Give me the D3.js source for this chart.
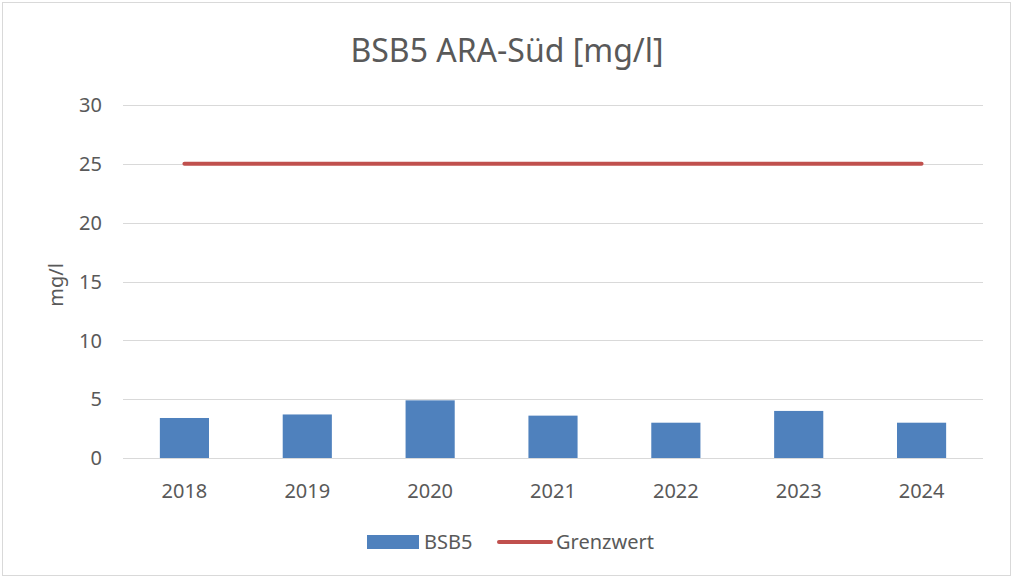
<!DOCTYPE html>
<html>
<head>
<meta charset="utf-8">
<script src="https://cdn.jsdelivr.net/npm/d3@7"></script>
<style>
  body { margin: 0; background: #fff; }
  text { font-family: "Noto Sans", "Open Sans", sans-serif; fill: #595959; }
</style>
</head>
<body>
<svg id="chart" width="1013" height="578"></svg>
<script>
// data
const years = ["2018", "2019", "2020", "2021", "2022", "2023", "2024"];
const bsb5 = [3.4, 3.7, 4.9, 3.6, 3.0, 4.0, 3.0];
const grenzwert = [25, 25, 25, 25, 25, 25, 25];
const yTicks = [0, 5, 10, 15, 20, 25, 30];

const svg = d3.select("#chart");
const W = 1013, H = 578;
const margin = { top: 105, right: 30, bottom: 120, left: 123 };

// outer chart border
svg.append("rect")
    .attr("x", 2.5).attr("y", 2.5)
    .attr("width", W - 5).attr("height", H - 5)
    .attr("fill", "#fff")
    .attr("stroke", "#d9d9d9");

const x = d3.scaleBand()
    .domain(years)
    .range([margin.left, W - margin.right])
    .padding(0);

const y = d3.scaleLinear()
    .domain([0, 30])
    .range([H - margin.bottom, margin.top]);

// gridlines
svg.append("g")
    .selectAll("line")
    .data(yTicks)
    .join("line")
    .attr("x1", margin.left)
    .attr("x2", W - margin.right)
    .attr("y1", d => Math.round(y(d)) + 0.5)
    .attr("y2", d => Math.round(y(d)) + 0.5)
    .attr("stroke", "#d9d9d9")
    .attr("stroke-width", 1);

// y tick labels
svg.append("g")
    .selectAll("text")
    .data(yTicks)
    .join("text")
    .attr("x", margin.left - 21)
    .attr("y", d => y(d))
    .attr("dy", "0.36em")
    .attr("text-anchor", "end")
    .attr("font-size", 20)
    .text(d => d);

// bars
const barW = x.bandwidth() * 0.4;
svg.append("g")
    .selectAll("rect")
    .data(bsb5)
    .join("rect")
    .attr("x", (d, i) => x(years[i]) + (x.bandwidth() - barW) / 2)
    .attr("y", d => y(d))
    .attr("width", barW)
    .attr("height", d => y(0) - y(d))
    .attr("fill", "#4f81bd");

// x labels
svg.append("g")
    .selectAll("text")
    .data(years)
    .join("text")
    .attr("x", d => x(d) + x.bandwidth() / 2)
    .attr("y", y(0) + 40)
    .attr("text-anchor", "middle")
    .attr("font-size", 20)
    .text(d => d);

// limit line
const line = d3.line()
    .x((d, i) => x(years[i]) + x.bandwidth() / 2)
    .y(d => y(d));
svg.append("path")
    .datum(grenzwert)
    .attr("d", line)
    .attr("fill", "none")
    .attr("stroke", "#c0504d")
    .attr("stroke-width", 4)
    .attr("stroke-linecap", "round");

// title
svg.append("text")
    .attr("x", 507)
    .attr("y", 62)
    .attr("text-anchor", "middle")
    .attr("font-size", 32)
    .text("BSB5 ARA-Süd [mg/l]");

// y axis title
svg.append("text")
    .attr("transform", "translate(63,285) rotate(-90)")
    .attr("text-anchor", "middle")
    .attr("font-size", 20)
    .text("mg/l");

// legend
const lg = svg.append("g").attr("transform", "translate(0,542)");
lg.append("rect")
    .attr("x", 367).attr("y", -7)
    .attr("width", 52).attr("height", 14)
    .attr("fill", "#4f81bd");
lg.append("text")
    .attr("x", 424).attr("y", 0).attr("dy", "0.36em")
    .attr("font-size", 20)
    .text("BSB5");
lg.append("line")
    .attr("x1", 499).attr("x2", 551)
    .attr("y1", 0).attr("y2", 0)
    .attr("stroke", "#c0504d")
    .attr("stroke-width", 4)
    .attr("stroke-linecap", "round");
lg.append("text")
    .attr("x", 556).attr("y", 0).attr("dy", "0.36em")
    .attr("font-size", 20)
    .text("Grenzwert");
</script>
</body>
</html>
